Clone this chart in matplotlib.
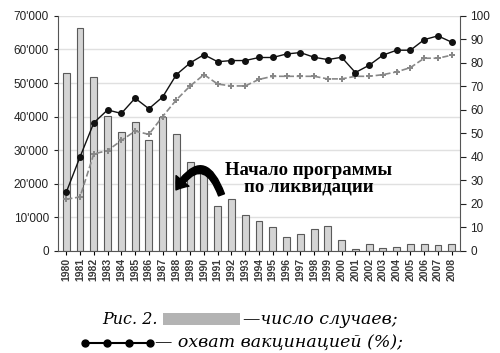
import numpy as np
import matplotlib
matplotlib.use('Agg')
from matplotlib import pyplot as plt
from matplotlib.patches import FancyArrowPatch, Rectangle
from matplotlib.lines import Line2D
from matplotlib.ticker import FuncFormatter

plt.rc('font', family='Liberation Sans')

years = list(range(1980, 2009))
cases = [53000, 66400, 51800, 40300, 35300, 38400, 33000, 40000, 34800, 26500,
         23500, 13500, 15500, 10700, 9000, 7200, 4200, 5200, 6500, 7400,
         3400, 600, 2100, 800, 1300, 2100, 2100, 1700, 2100]
cover_solid = [25, 40, 54.5, 60, 58.5, 65, 60.5, 65.5, 75, 80, 83.5, 80.5, 81, 81,
               82.3, 82.3, 83.8, 84.4, 82.4, 81.4, 82.4, 75.9, 79, 83.3, 85.4,
               85.4, 89.9, 91.5, 88.8]
cover_dash = [22, 23, 41.3, 42.7, 47, 51, 49.6, 57.2, 64.3, 70.2, 75, 71, 70.2,
              70.2, 73, 74.3, 74.3, 74.3, 74.3, 73.2, 73.2, 74.3, 74.3, 75, 76.2,
              78, 82, 82, 83.3]

fig = plt.figure(figsize=(5, 3.53), dpi=100)
ax = fig.add_axes([0.116, 0.289, 0.804, 0.666])
x = np.arange(len(years))

ax.bar(x, cases, 0.5, facecolor='#d4d4d4', edgecolor='#5a5a5a', linewidth=0.8, zorder=2)
ax.set_ylim(0, 70000)
ax.set_xlim(-0.6, len(years) - 0.4)
ax.set_yticks(range(0, 70001, 10000))
ax.yaxis.set_major_formatter(FuncFormatter(lambda v, p: '0' if v == 0 else "%d'000" % (v / 1000)))
ax.grid(axis='y', color='#e0e0e0', linewidth=1, zorder=0)
ax.set_axisbelow(True)
ax.set_xticks(x)
ax.set_xticklabels([str(y) for y in years], rotation=90, fontsize=7.5, fontweight='bold', color='#3a3a3a')
ax.tick_params(axis='y', labelsize=8.5, colors='#222222', length=3)
ax.tick_params(axis='x', length=3, pad=2)
ax.spines['top'].set_visible(False)
ax.spines['left'].set_color('#555555')
ax.spines['bottom'].set_color('#555555')
ax.spines['right'].set_visible(False)

ax2 = ax.twinx()
ax2.set_ylim(0, 100)
ax2.set_yticks(range(0, 101, 10))
ax2.plot(x, cover_dash, color='#888888', linestyle='--', linewidth=1.2, marker='P',
         markersize=4, markeredgewidth=0, zorder=3)
ax2.plot(x, cover_solid, color='#111111', linewidth=1.0, marker='o', markersize=4, zorder=4)
ax2.tick_params(axis='y', labelsize=8.5, colors='#222222', length=4)
ax2.spines['top'].set_visible(False)
ax2.spines['left'].set_visible(False)
ax2.spines['bottom'].set_visible(False)
ax2.spines['right'].set_color('#555555')

# annotation
fig.text(0.617, 0.493, 'Начало программы\nпо ликвидации', ha='center', va='center',
         fontsize=13.5, fontweight='bold', family='Liberation Serif', linespacing=0.95)
arr = FancyArrowPatch((0.443, 0.448), (0.352, 0.462), transform=fig.transFigure,
                      connectionstyle='arc3,rad=1.0',
                      arrowstyle='simple,head_width=12,head_length=8,tail_width=4.5',
                      color='black', shrinkA=0, shrinkB=0)
fig.patches.append(arr)

# caption
cap = dict(fontsize=12.5, style='italic', family='DejaVu Serif', va='center')
fig.text(0.204, 0.096, 'Рис. 2.', fontsize=11.5, style='italic', family='DejaVu Serif', va='center')
fig.patches.append(Rectangle((0.326, 0.08), 0.154, 0.034, transform=fig.transFigure,
                             facecolor='#b3b3b3', edgecolor='none'))
fig.text(0.486, 0.096, '—число случаев;', **cap)
fig.lines.append(Line2D([0.17, 0.213, 0.257, 0.30], [0.028] * 4, transform=fig.transFigure, color='black',
                        linewidth=1.5, marker='o', markersize=5))
fig.text(0.31, 0.028, '— охват вакцинацией (%);', **cap)

fig.savefig('out.png', dpi=100)
